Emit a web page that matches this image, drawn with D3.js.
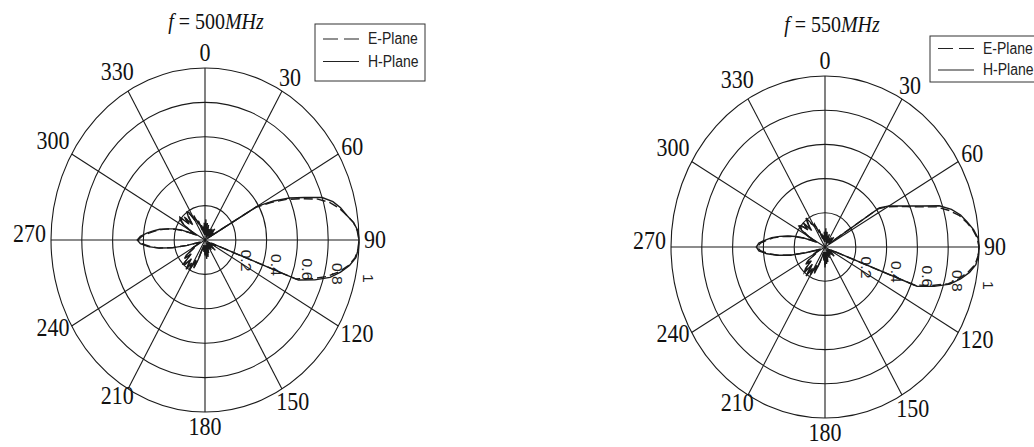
<!DOCTYPE html>
<html>
<head>
<meta charset="utf-8">
<script src="https://cdn.jsdelivr.net/npm/d3@7/dist/d3.min.js"></script>
<style>
  html, body { margin: 0; padding: 0; background: #fff; }
  svg { display: block; }
</style>
</head>
<body>
<svg id="chart" width="1034" height="447"></svg>
<script>
// Normalised radiation patterns, one sample every 3 degrees (0..357, clockwise from north)
const angles = d3.range(0, 360, 3);

const h500 = [
  0.05, 0.12, 0.03, 0.10, 0.04, 0.08, 0.02, 0.07, 0.03, 0.06,
  0.02, 0.05, 0.08, 0.03, 0.06, 0.09, 0.04, 0.07, 0.03, 0.02,
  0.39, 0.50, 0.60, 0.69, 0.80, 0.86, 0.90, 0.93, 0.97, 0.995,
  1.00, 0.997, 0.985, 0.95, 0.90, 0.84, 0.75, 0.65, 0.04, 0.08,
  0.03, 0.06, 0.02, 0.05, 0.09, 0.03, 0.06, 0.02, 0.07, 0.04,
  0.05, 0.02, 0.06, 0.03, 0.08, 0.04, 0.10, 0.03, 0.11, 0.04,
  0.09, 0.03, 0.07, 0.04, 0.06, 0.03, 0.05, 0.12, 0.18, 0.13,
  0.20, 0.16, 0.21, 0.14, 0.19, 0.20, 0.12, 0.17, 0.15, 0.08,
  0.10, 0.05, 0.06, 0.03, 0.05, 0.12, 0.22, 0.30, 0.37, 0.42,
  0.44, 0.42, 0.38, 0.34, 0.30, 0.25, 0.21, 0.16, 0.09, 0.06,
  0.12, 0.17, 0.20, 0.21, 0.14, 0.19, 0.12, 0.17, 0.20, 0.19,
  0.13, 0.16, 0.10, 0.12, 0.06, 0.09, 0.04, 0.08, 0.03, 0.10
];
const e500 = [
  0.04, 0.10, 0.05, 0.08, 0.03, 0.09, 0.03, 0.06, 0.04, 0.07,
  0.03, 0.04, 0.07, 0.04, 0.05, 0.08, 0.05, 0.06, 0.04, 0.03,
  0.38, 0.48, 0.58, 0.67, 0.77, 0.84, 0.89, 0.93, 0.97, 0.99,
  1.00, 0.995, 0.98, 0.945, 0.89, 0.82, 0.73, 0.63, 0.05, 0.07,
  0.04, 0.05, 0.03, 0.06, 0.08, 0.04, 0.05, 0.03, 0.06, 0.05,
  0.04, 0.03, 0.05, 0.04, 0.07, 0.05, 0.09, 0.04, 0.10, 0.05,
  0.08, 0.04, 0.06, 0.05, 0.05, 0.04, 0.06, 0.11, 0.17, 0.14,
  0.19, 0.17, 0.20, 0.15, 0.18, 0.19, 0.13, 0.16, 0.14, 0.09,
  0.09, 0.06, 0.05, 0.04, 0.06, 0.12, 0.21, 0.30, 0.36, 0.41,
  0.435, 0.41, 0.37, 0.33, 0.29, 0.25, 0.20, 0.15, 0.10, 0.07,
  0.11, 0.16, 0.19, 0.20, 0.15, 0.18, 0.13, 0.16, 0.19, 0.18,
  0.14, 0.15, 0.11, 0.11, 0.07, 0.08, 0.05, 0.07, 0.04, 0.09
];
const h550 = [
  0.06, 0.11, 0.04, 0.09, 0.03, 0.07, 0.03, 0.08, 0.02, 0.05,
  0.03, 0.06, 0.04, 0.07, 0.03, 0.08, 0.05, 0.04, 0.03, 0.42,
  0.48, 0.53, 0.59, 0.67, 0.78, 0.85, 0.90, 0.935, 0.97, 0.995,
  1.00, 0.997, 0.985, 0.95, 0.90, 0.84, 0.745, 0.64, 0.04, 0.07,
  0.03, 0.05, 0.02, 0.06, 0.08, 0.03, 0.05, 0.02, 0.06, 0.04,
  0.05, 0.02, 0.07, 0.03, 0.06, 0.04, 0.09, 0.03, 0.10, 0.04,
  0.12, 0.03, 0.08, 0.04, 0.05, 0.03, 0.06, 0.11, 0.17, 0.12,
  0.19, 0.15, 0.21, 0.13, 0.20, 0.18, 0.12, 0.16, 0.14, 0.07,
  0.09, 0.05, 0.05, 0.03, 0.06, 0.13, 0.23, 0.31, 0.38, 0.43,
  0.446, 0.43, 0.39, 0.35, 0.30, 0.25, 0.20, 0.15, 0.09, 0.06,
  0.13, 0.18, 0.21, 0.20, 0.15, 0.20, 0.13, 0.18, 0.21, 0.17,
  0.14, 0.15, 0.09, 0.11, 0.05, 0.08, 0.04, 0.07, 0.03, 0.09
];
const e550 = [
  0.05, 0.09, 0.05, 0.08, 0.04, 0.06, 0.04, 0.07, 0.03, 0.06,
  0.04, 0.05, 0.05, 0.06, 0.04, 0.07, 0.04, 0.05, 0.04, 0.41,
  0.47, 0.52, 0.58, 0.655, 0.76, 0.83, 0.89, 0.93, 0.965, 0.99,
  1.00, 0.995, 0.98, 0.94, 0.89, 0.83, 0.73, 0.62, 0.05, 0.06,
  0.04, 0.04, 0.03, 0.05, 0.07, 0.04, 0.04, 0.03, 0.05, 0.05,
  0.04, 0.03, 0.06, 0.04, 0.05, 0.05, 0.08, 0.04, 0.09, 0.05,
  0.11, 0.04, 0.07, 0.05, 0.04, 0.04, 0.07, 0.10, 0.16, 0.13,
  0.18, 0.16, 0.20, 0.14, 0.19, 0.17, 0.13, 0.15, 0.13, 0.08,
  0.08, 0.06, 0.04, 0.04, 0.07, 0.13, 0.22, 0.31, 0.37, 0.42,
  0.44, 0.42, 0.38, 0.34, 0.29, 0.24, 0.19, 0.14, 0.10, 0.07,
  0.12, 0.17, 0.20, 0.19, 0.16, 0.19, 0.14, 0.17, 0.20, 0.16,
  0.15, 0.14, 0.10, 0.10, 0.06, 0.07, 0.05, 0.06, 0.04, 0.08
];

const ringValues = [0.2, 0.4, 0.6, 0.8, 1];
const ringLabels = ["0.2", "0.4", "0.6", "0.8", "1"];
const spokeAngles = [0, 30, 60, 90, 120, 150, 180, 210, 240, 270, 300, 330];
const spokeLabels = ["0", "30", "60", "90", "120", "150", "180", "210", "240", "270", "300", "330"];
const seriesNames = ["E-Plane", "H-Plane"];

const panels = [
  { freq: "500", e: e500, h: h500, cx: 205, cy: 240, rx: 154, ry: 172,
    titleX: 216, titleY: 22, legend: { x: 315, y: 24, w: 110, h: 57, rows: [39, 61.5] } },
  { freq: "550", e: e550, h: h550, cx: 825, cy: 247, rx: 154, ry: 171,
    titleX: 832, titleY: 25, legend: { x: 930, y: 36, w: 110, h: 46, rows: [48.5, 70] } }
];

const svg = d3.select("#chart");
const stretch = 1.116;   // the plot is drawn taller than wide
const ink = "#1a1a1a";

function drawPanel(p) {
  const g = svg.append("g");
  const x = d3.scaleLinear().domain([-1, 1]).range([p.cx - p.rx, p.cx + p.rx]);
  const y = d3.scaleLinear().domain([-1, 1]).range([p.cy + p.ry, p.cy - p.ry]);
  const rad = a => a * Math.PI / 180;
  const px = (r, a) => x(r * Math.sin(rad(a)));
  const py = (r, a) => y(r * Math.cos(rad(a)));

  // rings
  g.selectAll("ellipse.ring").data(ringValues).join("ellipse")
    .attr("class", "ring")
    .attr("cx", x(0)).attr("cy", y(0))
    .attr("rx", d => x(d) - x(0)).attr("ry", d => y(0) - y(d))
    .attr("fill", "none").attr("stroke", ink).attr("stroke-width", 1.1);

  // spokes
  g.selectAll("line.spoke").data(spokeAngles).join("line")
    .attr("class", "spoke")
    .attr("x1", x(0)).attr("y1", y(0))
    .attr("x2", d => px(1, d)).attr("y2", d => py(1, d))
    .attr("stroke", ink).attr("stroke-width", 1.1);

  // angle labels
  const fs = 22;
  g.selectAll("text.ang").data(spokeAngles).join("text")
    .attr("class", "ang")
    .attr("transform", (d, i) => {
      const hw = spokeLabels[i].length * fs * 0.25;
      const hh = 9;
      const s = Math.sin(rad(d)), c = Math.cos(rad(d));
      const tx = px(1, d) + s * (hw + 5);
      const ty = py(1, d) - c * (hh + 6) - (s < -0.1 ? 6 : 0);
      return `translate(${tx},${ty}) scale(1,${stretch})`;
    })
    .attr("text-anchor", "middle").attr("dominant-baseline", "central")
    .attr("font-family", "'Liberation Serif', 'Times New Roman', serif")
    .attr("font-size", fs).attr("fill", "#111")
    .text((d, i) => spokeLabels[i]);

  // radial value labels, set along a direction just below the 90 spoke
  g.selectAll("text.rv").data(ringValues).join("text")
    .attr("class", "rv")
    .attr("transform", d => `translate(${px(d, 97.5) + 10},${py(d, 97.5) + 16}) scale(1,${stretch}) rotate(90)`)
    .attr("text-anchor", "middle").attr("dominant-baseline", "central")
    .attr("font-family", "'Liberation Sans', Arial, sans-serif")
    .attr("font-size", 14).attr("fill", "#222")
    .text((d, i) => ringLabels[i]);

  // pattern curves
  const line = d3.line()
    .x(d => px(d.r, d.a))
    .y(d => py(d.r, d.a))
    .curve(d3.curveLinearClosed);
  const toPts = vals => vals.map((r, i) => ({ a: angles[i], r }));

  g.append("path").datum(toPts(p.h))
    .attr("d", line).attr("fill", "none")
    .attr("stroke", "#1a1a1a").attr("stroke-width", 1.4);
  g.append("path").datum(toPts(p.e))
    .attr("d", line).attr("fill", "none")
    .attr("stroke", "#1a1a1a").attr("stroke-width", 1.4)
    .attr("stroke-dasharray", "9,4");

  // title
  const t = g.append("text")
    .attr("transform", `translate(${p.titleX},${p.titleY}) scale(1,${stretch})`)
    .attr("text-anchor", "middle").attr("dominant-baseline", "central")
    .attr("font-family", "'Liberation Serif', 'Times New Roman', serif")
    .attr("font-size", 20).attr("fill", "#111");
  t.append("tspan").attr("font-style", "italic").text("f");
  t.append("tspan").text("  =  " + p.freq);
  t.append("tspan").attr("font-style", "italic").text("MHz");

  // legend
  const L = p.legend;
  const lg = g.append("g");
  lg.append("rect").attr("x", L.x).attr("y", L.y).attr("width", L.w).attr("height", L.h)
    .attr("fill", "#fff").attr("stroke", "#333").attr("stroke-width", 1);
  seriesNames.forEach((name, i) => {
    lg.append("line")
      .attr("x1", L.x + 8).attr("x2", L.x + 44)
      .attr("y1", L.rows[i]).attr("y2", L.rows[i])
      .attr("stroke", "#222").attr("stroke-width", 1.2)
      .attr("stroke-dasharray", i === 0 ? "15,6" : null);
    lg.append("text")
      .attr("transform", `translate(${L.x + 53},${L.rows[i]}) scale(1,${stretch})`)
      .attr("dominant-baseline", "central")
      .attr("font-family", "'Liberation Sans', Arial, sans-serif")
      .attr("font-size", 14).attr("fill", "#222")
      .text(name);
  });
}

panels.forEach(drawPanel);
</script>
</body>
</html>
